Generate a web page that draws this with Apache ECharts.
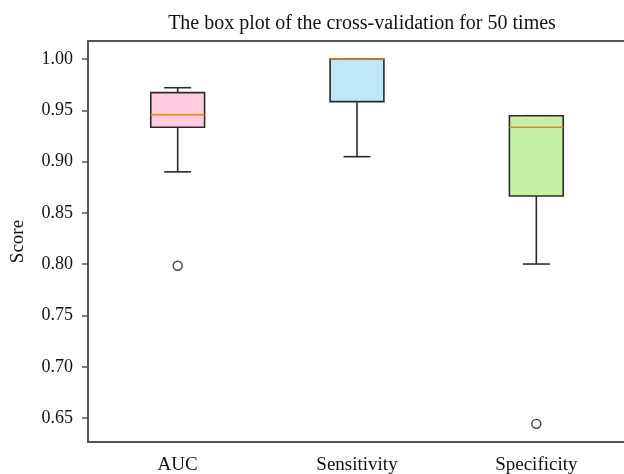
<!DOCTYPE html>
<html>
<head>
<meta charset="utf-8">
<script src="https://cdn.jsdelivr.net/npm/echarts@6/dist/echarts.min.js"></script>
<style>
  html, body { margin: 0; padding: 0; background: #fff; }
  #chart { width: 624px; height: 474px; }
</style>
</head>
<body>
<div id="chart"></div>
<script>
// categories and box statistics
const categories = ['AUC', 'Sensitivity', 'Specificity'];
const whiskerLow = [0.890, 0.9048, 0.8002];
const q1 = [0.9334, 0.9584, 0.8665];
const median = [0.9457, 1.000, 0.9334];
const q3 = [0.9672, 1.000, 0.9447];
const whiskerHigh = [0.972, 1.000, 0.9447];
const outliers = [[0, 0.7985], [2, 0.6445]];
const yTicks = [0.65, 0.70, 0.75, 0.80, 0.85, 0.90, 0.95, 1.00];
const boxColors = ['#ffcce1', '#bfe8f5', '#c6f1a7'];

const font = 'Liberation Serif';
const lineCol = '#555';

const boxData = categories.map((c, i) => [i, whiskerLow[i], q1[i], median[i], q3[i], whiskerHigh[i]]);

function renderBox(params, api) {
    const i = api.value(0);
    const band = api.size([1, 0])[0];
    const bw = band * 0.3;
    const cw = bw / 2;
    const x = api.coord([i, api.value(3)])[0];
    const yLow = api.coord([i, api.value(1)])[1];
    const yQ1 = api.coord([i, api.value(2)])[1];
    const yMed = api.coord([i, api.value(3)])[1];
    const yQ3 = api.coord([i, api.value(4)])[1];
    const yHigh = api.coord([i, api.value(5)])[1];
    const stroke = {stroke: '#2a2a2a', lineWidth: 1.6};
    return {
        type: 'group',
        children: [
            {type: 'line', shape: {x1: x, y1: yLow, x2: x, y2: yQ1}, style: stroke},
            {type: 'line', shape: {x1: x, y1: yQ3, x2: x, y2: yHigh}, style: stroke},
            {type: 'line', shape: {x1: x - cw / 2, y1: yLow, x2: x + cw / 2, y2: yLow}, style: stroke},
            {type: 'line', shape: {x1: x - cw / 2, y1: yHigh, x2: x + cw / 2, y2: yHigh}, style: stroke},
            {
                type: 'rect',
                shape: {x: x - bw / 2, y: yQ3, width: bw, height: yQ1 - yQ3},
                style: {fill: boxColors[i], stroke: '#2a2a2a', lineWidth: 1.6}
            },
            {type: 'line', shape: {x1: x - bw / 2, y1: yMed, x2: x + bw / 2, y2: yMed}, style: {stroke: '#f5821f', lineWidth: 1.6}}
        ]
    };
}

const chart = echarts.init(document.getElementById('chart'));

const option = {
    animation: false,
    title: {
        text: 'The box plot of the cross-validation for 50 times',
        left: 357,
        top: 9,
        textAlign: 'center',
        textStyle: {fontFamily: font, fontSize: 20, fontWeight: 'normal', color: '#111'}
    },
    grid: {left: 88, top: 41, width: 538, height: 401, outerBoundsMode: 'none', containLabel: false},
    xAxis: [
        {
            type: 'category',
            data: categories,
            boundaryGap: true,
            axisLine: {lineStyle: {color: lineCol, width: 2}},
            axisTick: {alignWithLabel: true, length: 7, lineStyle: {color: lineCol, width: 1.5}},
            axisLabel: {fontFamily: font, fontSize: 19, color: '#111', margin: 14},
            splitLine: {show: false}
        },
        {
            type: 'category',
            data: categories,
            position: 'top',
            axisLine: {lineStyle: {color: lineCol, width: 2}},
            axisTick: {show: false},
            axisLabel: {show: false}
        }
    ],
    yAxis: {
        type: 'value',
        min: 0.6268,
        max: 1.0175,
        name: 'Score',
        nameLocation: 'middle',
        nameRotate: 90,
        nameGap: 60,
        nameTextStyle: {fontFamily: font, fontSize: 19, color: '#111'},
        axisLine: {show: true, lineStyle: {color: lineCol, width: 2}},
        axisTick: {show: true, length: 6, customValues: yTicks, lineStyle: {color: lineCol, width: 1.5}},
        axisLabel: {
            fontFamily: font, fontSize: 18, color: '#111', margin: 15,
            customValues: yTicks,
            formatter: v => v.toFixed(2)
        },
        splitLine: {show: false}
    },
    series: [
        {
            type: 'custom',
            renderItem: renderBox,
            encode: {x: 0, y: [1, 2, 3, 4, 5]},
            data: boxData,
            z: 2
        },
        {
            type: 'scatter',
            data: outliers,
            symbol: 'circle',
            symbolSize: 9,
            itemStyle: {color: '#fff', borderColor: '#111', borderWidth: 1.4},
            z: 3
        }
    ]
};

chart.setOption(option);
</script>
</body>
</html>
